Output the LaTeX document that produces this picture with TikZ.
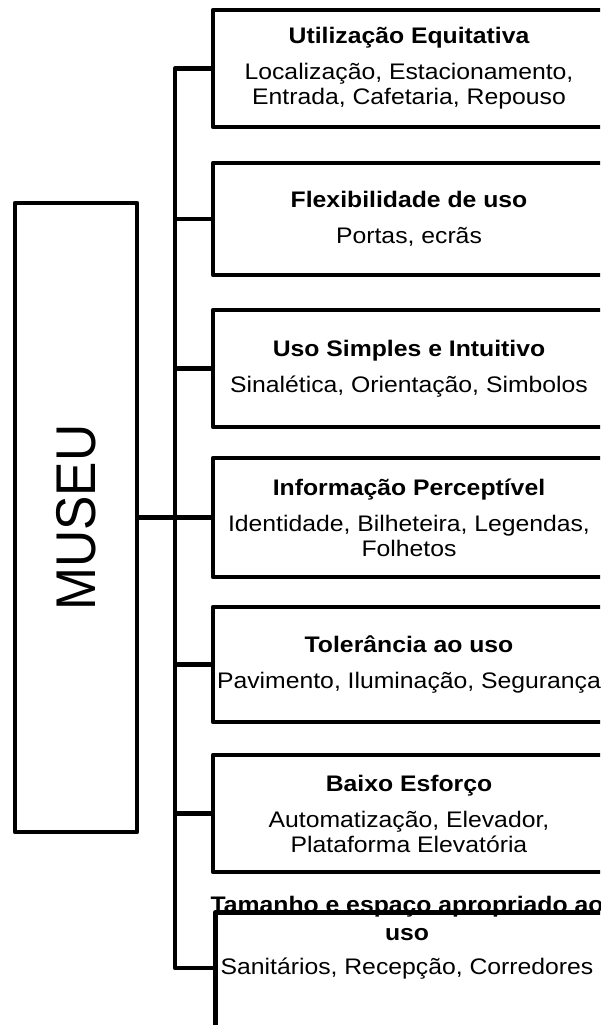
\documentclass[tikz,border=0pt]{standalone}
\usepackage{fontspec}
\setmainfont[FakeStretch=1.1]{Liberation Sans}
\newfontfamily\museufont[FakeStretch=0.92]{Liberation Sans}
\begin{document}
\begin{tikzpicture}[x=1pt,y=-1pt,
  box/.style={draw, line width=4.5pt, line join=round, minimum width=392pt, inner sep=0pt,
    align=center, font=\fontsize{22.5}{25}\selectfont},
  conn/.style={line width=4.5pt, line join=round},
  lbl/.style={inner sep=0pt, font=\fontsize{22.5}{25}\selectfont}]
\useasboundingbox (0,0) rectangle (600,1025);
\clip (0,0) rectangle (600,1025);
\fill[white] (0,0) rectangle (600,1025);

\node[box, minimum width=122pt, minimum height=629pt] (m) at (76,517.5)
  {\rotatebox{90}{\museufont\fontsize{56}{60}\selectfont MUSEU}};

\node[box, minimum height=117pt] (b1) at (409,68.5)
  {{\bfseries Utilização Equitativa}\\[11pt]Localização, Estacionamento,\\Entrada, Cafetaria, Repouso};
\node[box, minimum height=112pt] (b2) at (409,219)
  {{\bfseries Flexibilidade de uso}\\[11pt]Portas, ecrãs};
\node[box, minimum height=117pt] (b3) at (409,368.5)
  {{\bfseries Uso Simples e Intuitivo}\\[11pt]Sinalética, Orientação, Simbolos};
\node[box, minimum height=119pt] (b4) at (409,517.5)
  {{\bfseries Informação Perceptível}\\[11pt]Identidade, Bilheteira, Legendas,\\Folhetos};
\node[box, minimum height=115pt] (b5) at (409,664.5)
  {{\bfseries Tolerância ao uso}\\[11pt]Pavimento, Iluminação, Segurança};
\node[box, minimum height=117pt] (b6) at (409,813.5)
  {{\bfseries Baixo Esforço}\\[11pt]Automatização, Elevador,\\Plataforma Elevatória};
\node[box, minimum height=200pt, anchor=north west] (b7) at (213,910) {};
\node[lbl, anchor=base] (t7a) at (407,912) {\bfseries Tamanho e espaço apropriado ao};
\node[lbl, anchor=base] (t7b) at (407,940) {\bfseries uso};
\node[lbl, anchor=base] (t7c) at (407,974) {Sanitários, Recepção, Corredores};

\coordinate (ttop) at (175,68.5);
\coordinate (tbot) at (175,968);
\coordinate (c7) at (213,968);
\draw[conn] (b1.west) -- (ttop) -- (tbot) -- (c7);
\foreach \b in {b2,b3,b4,b5,b6}
  \draw[conn] (\b.west) -- (\b.west -| ttop);
\draw[conn] (m.east) -- (m.east -| ttop);
\end{tikzpicture}
\end{document}
